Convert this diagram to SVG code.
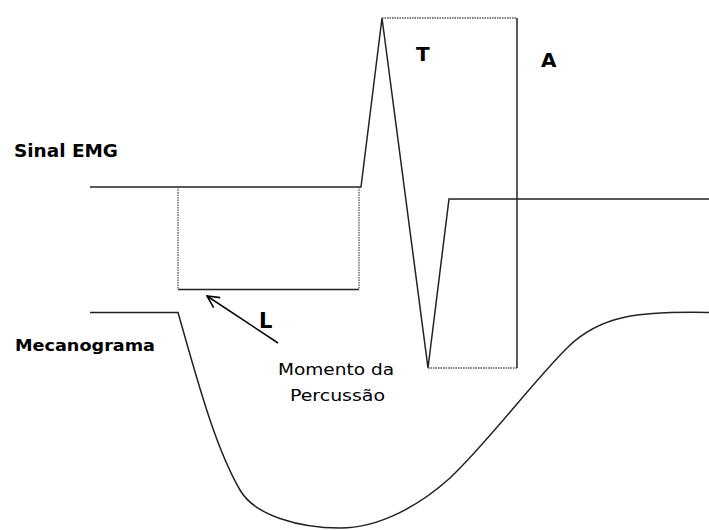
<svg xmlns="http://www.w3.org/2000/svg" width="709" height="530" viewBox="0 0 709 530">
<style>
.ln{fill:none;stroke:#222;stroke-width:1.5}
.dt{fill:none;stroke:#555;stroke-width:1.3;stroke-dasharray:1.5 1}
.lb{font-family:"DejaVu Sans",sans-serif;font-weight:bold;fill:#000}
.tx{font-family:"DejaVu Sans",sans-serif;fill:#000}
</style>
<defs>
<marker id="ah" viewBox="0 0 14 14" refX="13" refY="7" markerWidth="14" markerHeight="14" markerUnits="userSpaceOnUse" orient="auto">
<path d="M1,1 L13,7 L1,13" fill="none" stroke="#000" stroke-width="1.6"/>
</marker>
</defs>
<rect width="709" height="530" fill="#fff"/>
<g id="connectors">
<path id="emg" class="ln" d="M90,187 H361 L382,18 L428,368 L449,199 H709"/>
<path id="latency-bottom" class="ln" d="M178,289.5 H359"/>
<path class="dt" d="M178,187 V289 M359,187 V289"/>
<path class="dt" d="M382,18 H517 M428,368 H517"/>
<path id="a-line" class="ln" d="M517,18 V368"/>
<path id="mech" class="ln" d="M90,312.5 H178 C196,375 214,445 240,490 C255,516 300,528 340,528 C380,528 420,505 450,478 C490,440 530,385 567,348 C600,315 640,311 709,312.5"/>
<line id="arrow" x1="278" y1="343" x2="207" y2="296" stroke="#000" stroke-width="1.5" marker-end="url(#ah)"/>
</g>
<g id="label-sinal"><text class="lb" x="14" y="157" font-size="17" textLength="104" lengthAdjust="spacingAndGlyphs">Sinal EMG</text></g>
<g id="label-mecanograma"><text class="lb" x="15" y="351" font-size="16" textLength="140" lengthAdjust="spacingAndGlyphs">Mecanograma</text></g>
<g id="label-L"><text class="lb" x="259" y="328" font-size="21">L</text></g>
<g id="label-T"><text class="lb" x="416" y="61" font-size="20">T</text></g>
<g id="label-A"><text class="lb" x="541" y="67" font-size="20">A</text></g>
<g id="label-momento">
<text class="tx" x="278" y="375" font-size="16" textLength="116" lengthAdjust="spacingAndGlyphs">Momento da</text>
<text class="tx" x="290" y="401" font-size="16" textLength="95" lengthAdjust="spacingAndGlyphs">Percussão</text>
</g>
</svg>
